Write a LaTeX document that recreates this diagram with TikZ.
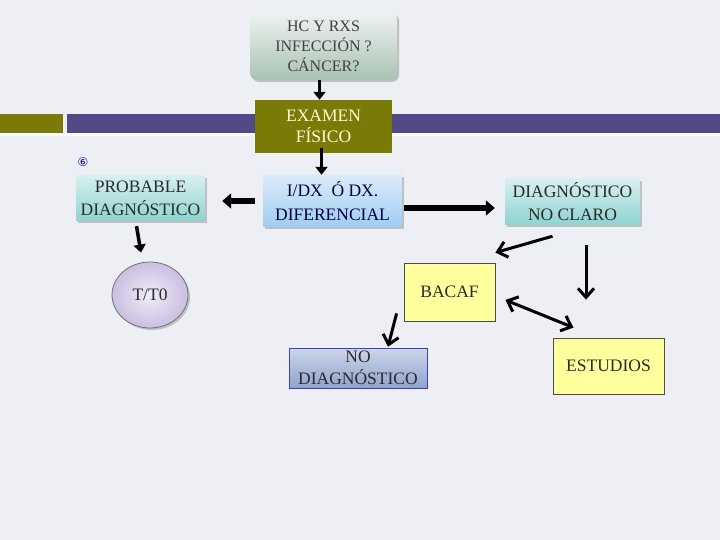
\documentclass[tikz,border=0pt]{standalone}
\usepackage{fontspec}
\setmainfont{Liberation Serif}
\newfontfamily\symfont{DejaVu Sans}
\usetikzlibrary{arrows.meta,shadows,calc,shapes.geometric}
\definecolor{bgc}{HTML}{EDEFF4}
\definecolor{olivec}{HTML}{7A7A06}
\definecolor{purplec}{HTML}{524A86}
\definecolor{txtc}{HTML}{2A2A2A}
\definecolor{hctop}{HTML}{EEF3F0}
\definecolor{hcbot}{HTML}{A9C2B4}
\definecolor{idxtop}{HTML}{DCEBFA}
\definecolor{idxbot}{HTML}{9ECDF2}
\definecolor{tealtop}{HTML}{D6F0EE}
\definecolor{tealbot}{HTML}{8ED3D0}
\definecolor{nodxtop}{HTML}{CDD6EA}
\definecolor{nodxbot}{HTML}{8FA3CB}
\definecolor{ttin}{HTML}{F0ECF8}
\definecolor{ttout}{HTML}{C9BFE0}
\definecolor{yellowc}{HTML}{FFFF9E}
\begin{document}
\begin{tikzpicture}[x=1pt,y=-1pt,
  box/.style={draw=none,align=center,inner sep=1pt,font=\fontsize{17.5}{23}\selectfont,text=txtc,anchor=center},
  shad/.style={drop shadow={shadow xshift=2pt,shadow yshift=-2pt,opacity=0.35,fill=black!60}},
  thickarrow/.style={draw=black,line width=6pt,-{Triangle[length=9pt,width=15pt]}},
  medarrow/.style={draw=black,line width=3.5pt,-{Triangle[length=8pt,width=12pt]}},
  thinarrow/.style={draw=black,line width=3pt,-{Straight Barb[length=9pt,width=16pt]}},
  thinboth/.style={draw=black,line width=3pt,{Straight Barb[length=9pt,width=16pt]}-{Straight Barb[length=9pt,width=16pt]}}
]
\useasboundingbox (0,0) rectangle (720,540);
\fill[bgc] (0,0) rectangle (720,540);
% band
\fill[olivec] (0,114) rectangle (63,133);
\fill[purplec] (67,114) rectangle (720,133);
\fill[white!70!bgc] (0,133) rectangle (720,136);

% nodes
\node[box,minimum width=147,minimum height=68,rounded corners=7pt,shad,
  shading=axis,top color=hctop,bottom color=hcbot,
  font=\fontsize{16}{20}\selectfont,text=black!75] (hc) at (323.5,46) {HC Y RXS\\INFECCIÓN ?\\CÁNCER?};
\node[box,minimum width=137,minimum height=53,fill=olivec,text=yellow!15!white,font=\fontsize{17.5}{21}\selectfont] (exam) at (323.5,126.5) {EXAMEN\\FÍSICO};
\node[box,minimum width=139,minimum height=52,shad,shading=axis,top color=idxtop,bottom color=idxbot,text=blue!25!black,font=\fontsize{17.5}{24}\selectfont] (idx) at (332.5,201) {I/DX\enspace Ó DX.\\DIFERENCIAL};
\node[box,minimum width=129,minimum height=45,shad,shading=axis,top color=tealtop,bottom color=tealbot] (prob) at (140.5,198.5) {PROBABLE\\DIAGNÓSTICO};
\node[box,minimum width=135,minimum height=46,shad,shading=axis,top color=tealtop,bottom color=tealbot] (dnc) at (572.5,202) {DIAGNÓSTICO\\NO CLARO};
\node[box,minimum width=91,minimum height=58,fill=yellowc,draw=black!70,line width=0.8pt] (bacaf) at (449.5,292) {BACAF};
\node[box,minimum width=111,minimum height=56,fill=yellowc,draw=black!70,line width=0.8pt] (est) at (608.5,366) {ESTUDIOS};
\node[box,minimum width=138,minimum height=40,shading=axis,top color=nodxtop,bottom color=nodxbot,
  draw=blue!50!gray,line width=0.6pt,inner sep=0pt,font=\fontsize{17.5}{22}\selectfont] (nodx) at (358,368) {NO\\DIAGNÓSTICO};
\node[box,ellipse,minimum width=76,minimum height=66,shad,shading=radial,inner color=ttin,outer color=ttout,draw=black!55,line width=0.8pt] (tt) at (150,295) {T/T0};
\node[font=\symfont\fontsize{12}{12}\selectfont,text=blue!60!black] (num) at (83,162) {⑥};

% connectors
\draw[medarrow] ($(hc.south)+(-4,0)$) -- ($(exam.north)+(-4,0)$);
\draw[medarrow] ($(exam.south)+(-2,-5)$) -- ($(idx.north)+(-11,0)$);
\draw[thickarrow] ($(idx.west)+(-8,0)$) -- ($(prob.east)+(17,2.5)$);
\draw[thickarrow] ($(idx.east)+(2,7)$) -- ($(dnc.west)+(-10,6)$);
\draw[medarrow] ($(prob.south)+(-4,5)$) -- ($(tt.north)+(-9,-9)$);
\draw[thinarrow] ($(dnc.south)+(-20,11)$) -- ($(bacaf.north east)+(0,-10)$);
\draw[thinarrow] ($(dnc.south)+(13.5,20)$) -- ($(est.north)+(-22.5,-38)$);
\draw[thinboth] ($(bacaf.east)+(10,8)$) -- ($(est.north)+(-35,-10)$);
\draw[thinarrow] ($(bacaf.south west)+(-7,-8)$) -- ($(nodx.north)+(30,-1)$);
\end{tikzpicture}
\end{document}
